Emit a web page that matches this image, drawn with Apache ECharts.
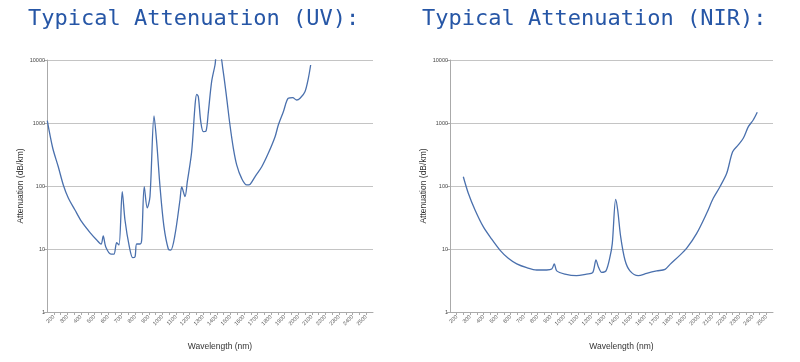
<!DOCTYPE html>
<html>
<head>
<meta charset="utf-8">
<script src="https://cdn.jsdelivr.net/npm/echarts@6/dist/echarts.min.js"></script>
<style>html,body{margin:0;padding:0;background:#fff;}#c{width:800px;height:362px;}</style>
</head>
<body>
<div id="c"></div>
<script>
// Typical attenuation, UV fiber: wavelength (nm) and attenuation (dB/km)
var uvWavelength = [152,192,233,270,307,356,405,467,516,548,564,582,621,643,663,680,704,724,756,781,798,810,835,847,866,888,908,938,958,982,1011,1043,1061,1092,1129,1142,1166,1183,1215,1240,1252,1264,1282,1301,1321,1337,1362,1387,1399,1424,1444,1473,1497,1522,1547,1583,1620,1644,1681,1731,1779,1829,1853,1890,1926,1959,1988,2013,2049,2074,2091];
var uvAttenuation = [1088,401,202,104,64.5,41.6,27.1,18.2,13.9,12.0,16.1,10.9,8.3,8.3,12.6,11.6,81,28.9,10.9,7.3,7.5,12.0,12.0,13.9,97.5,44.8,67.6,1292,482,97.5,22.6,10,9.6,16.7,60,96.4,68,117,350,1931,2855,2615,1049,728,746,1426,4525,8330,12000,12000,7385,2466,929,397,215,132,104,106,140,202,330,606,929,1511,2466,2523,2317,2466,3140,5125,8330];

// Typical attenuation, NIR fiber
var nirWavelength = [249,286,336,397,460,521,583,646,720,794,868,906,925,943,1004,1090,1165,1210,1235,1252,1277,1309,1339,1356,1381,1396,1418,1450,1487,1549,1611,1686,1748,1785,1859,1909,1983,2057,2106,2156,2206,2250,2292,2329,2367,2403,2433];
var nirAttenuation = [140,76.6,41.6,22.6,14.3,9.6,7.1,5.8,5.05,4.64,4.64,4.8,5.8,4.5,4.0,3.77,4.0,4.2,6.7,5.24,4.27,4.5,7.55,12.3,61.5,41.6,15.7,6.7,4.5,3.77,4.1,4.48,4.76,5.7,8.0,10.3,17.7,36.9,63.8,97.5,159,350,448,572,874,1116,1479];

var titles = ['Typical Attenuation (UV):', 'Typical Attenuation (NIR):'];
var xName = 'Wavelength (nm)';
var yName = 'Attenuation (dB/km)';

function pairs(xs, ys) { return xs.map(function (x, i) { return [x, ys[i]]; }); }

var chart = echarts.init(document.getElementById('c'));
function xAxis(idx) {
  return {
    type: 'value', gridIndex: idx, min: 150, max: 2550, interval: 50,
    name: xName, nameLocation: 'middle', nameGap: 30,
    nameTextStyle: { fontFamily: 'Liberation Sans', fontSize: 8.5, color: '#333', padding: [0, 0, 0, 20] },
    axisLine: { show: true, lineStyle: { color: '#aaa', width: 1 } },
    axisTick: { show: true, length: 3, lineStyle: { color: '#aaa' } },
    splitLine: { show: false },
    axisLabel: {
      rotate: 45, fontSize: 5.5, color: '#555', margin: 4, fontFamily: 'Liberation Sans',
      formatter: function (v) { return v % 100 === 0 ? String(v) : ''; },
      showMinLabel: false, showMaxLabel: false
    }
  };
}
function yAxis(idx) {
  return {
    type: 'log', logBase: 10, gridIndex: idx, min: 1, max: 10000,
    name: yName, nameLocation: 'middle', nameGap: 22,
    nameTextStyle: { fontFamily: 'Liberation Sans', fontSize: 8.5, color: '#333' },
    axisLine: { show: true, lineStyle: { color: '#aaa', width: 1 } },
    axisTick: { show: true, length: 3, lineStyle: { color: '#aaa' } },
    splitLine: { show: true, lineStyle: { color: '#c4c4c4', width: 1 } },
    minorTick: { show: false },
    axisLabel: { fontSize: 5.5, color: '#444', margin: 2, fontFamily: 'Liberation Sans',
      formatter: function (v) { return String(Math.round(v)); } }
  };
}
var lineStyle = { color: '#4a70ad', width: 1.3 };
chart.setOption({
  animation: false,
  backgroundColor: '#fff',
  title: [
    { text: titles[0], left: 28, top: 8, padding: 0,
      textStyle: { fontFamily: 'DejaVu Sans Mono', fontSize: 22, fontWeight: 'normal', color: '#2656a6' } },
    { text: titles[1], left: 422, top: 8, padding: 0,
      textStyle: { fontFamily: 'DejaVu Sans Mono', fontSize: 22, fontWeight: 'normal', color: '#2656a6' } }
  ],
  grid: [
    { left: 47, right: 427, top: 60, bottom: 50 },
    { left: 450, right: 27, top: 60, bottom: 50 }
  ],
  xAxis: [xAxis(0), xAxis(1)],
  yAxis: [yAxis(0), yAxis(1)],
  series: [
    { type: 'line', xAxisIndex: 0, yAxisIndex: 0, data: pairs(uvWavelength, uvAttenuation),
      showSymbol: false, smooth: 0.3, lineStyle: lineStyle, clip: true },
    { type: 'line', xAxisIndex: 1, yAxisIndex: 1, data: pairs(nirWavelength, nirAttenuation),
      showSymbol: false, smooth: 0.3, lineStyle: lineStyle, clip: true }
  ]
});
</script>
</body>
</html>
